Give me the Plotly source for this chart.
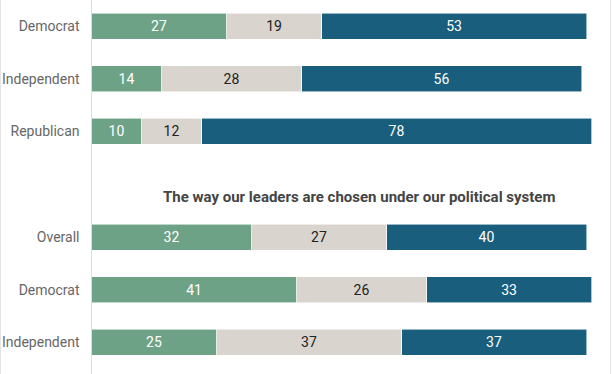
import plotly.graph_objects as go
from plotly.subplots import make_subplots

# ---- data ----
panel1_groups = ["Democrat", "Independent", "Republican"]
panel1_a = [27, 14, 10]
panel1_b = [19, 28, 12]
panel1_c = [53, 56, 78]

panel2_title = "The way our leaders are chosen under our political system"
panel2_groups = ["Overall", "Democrat", "Independent"]
panel2_a = [32, 41, 25]
panel2_b = [27, 26, 37]
panel2_c = [40, 33, 37]

colors = ["#6ea286", "#d9d4ce", "#195e7d"]
text_colors = ["white", "#222222", "white"]

W, H = 612, 374
fig = make_subplots(rows=2, cols=1)

panels = [
    (1, panel1_groups, [panel1_a, panel1_b, panel1_c]),
    (2, panel2_groups, [panel2_a, panel2_b, panel2_c]),
]
for row, groups, series in panels:
    for i, vals in enumerate(series):
        fig.add_trace(go.Bar(
            y=groups, x=vals, orientation="h",
            marker=dict(color=colors[i], line=dict(color="rgba(255,255,255,0.7)", width=0.8)),
            text=[str(v) for v in vals], textposition="inside",
            insidetextanchor="middle",
            textfont=dict(family="Roboto", size=14, color=text_colors[i]),
            width=0.5, showlegend=False, hoverinfo="skip",
        ), row=row, col=1)

x0 = 91.5 / W
x1 = 591.5 / W
tickfont = dict(family="Roboto", size=14, color="#666666")
fig.update_layout(
    width=W, height=H, barmode="stack",
    margin=dict(l=0, r=0, t=0, b=0),
    plot_bgcolor="white", paper_bgcolor="white",
    font=dict(family="Roboto", color="#666666"),
    xaxis=dict(domain=[x0, x1], range=[0, 100], visible=False),
    xaxis2=dict(domain=[x0, x1], range=[0, 100], visible=False),
    yaxis=dict(domain=[(H - 157.5) / H, 1.0], autorange="reversed",
               showgrid=False, zeroline=False, showline=False, ticks="",
               ticklabelstandoff=11, tickfont=tickfont),
    yaxis2=dict(domain=[(H - 368.5) / H, (H - 211) / H], autorange="reversed",
                showgrid=False, zeroline=False, showline=False, ticks="",
                ticklabelstandoff=11, tickfont=tickfont),
    shapes=[
        dict(type="line", xref="paper", yref="paper", x0=91.5 / W, x1=91.5 / W, y0=0, y1=1,
             line=dict(color="#dddddd", width=1)),
        dict(type="line", xref="paper", yref="paper", x0=0.5 / W, x1=0.5 / W, y0=0, y1=1,
             line=dict(color="#e3e3e3", width=1)),
        dict(type="line", xref="paper", yref="paper", x0=610.5 / W, x1=610.5 / W, y0=0, y1=1,
             line=dict(color="#e3e3e3", width=1)),
    ],
    annotations=[dict(
        text="<b>" + panel2_title + "</b>", xref="paper", yref="paper",
        x=359 / W, y=(H - 197) / H, xanchor="center", yanchor="middle",
        showarrow=False, font=dict(family="Roboto", size=15, color="#444444"),
    )],
)

fig.write_html("out.html", config={"displayModeBar": False},
               post_script="document.body.style.margin='0';")
